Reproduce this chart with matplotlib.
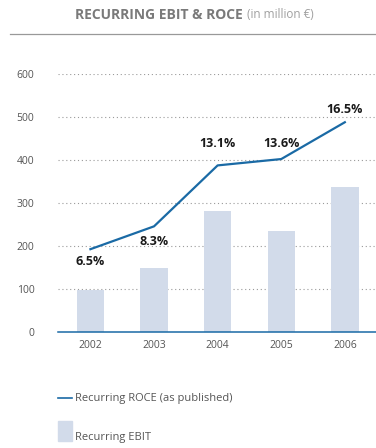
import matplotlib
matplotlib.use('Agg')
import matplotlib.pyplot as plt
from matplotlib.patches import Rectangle
from matplotlib.lines import Line2D

plt.rcParams['font.family'] = ['Open Sans', 'DejaVu Sans']

years = ['2002', '2003', '2004', '2005', '2006']
ebit = [98, 148, 281, 235, 337]          # recurring EBIT, million EUR
roce = [6.5, 8.3, 13.1, 13.6, 16.5]      # recurring ROCE, %
roce_labels = ['6.5%', '8.3%', '13.1%', '13.6%', '16.5%']
yticks = [0, 100, 200, 300, 400, 500, 600]

BLUE = '#1a6aa5'
BAR = '#d2dbea'
GRID = '#9a9a9a'
TXT = '#555555'

W, H = 376, 448
fig = plt.figure(figsize=(W / 100, H / 100), dpi=100)
ax = fig.add_axes([58 / W, (H - 331.7) / H, (W - 58) / W, (331.7 - 74) / H])

x = range(len(years))
ax.bar(x, ebit, width=0.43, color=BAR, zorder=2)
ax.set_xlim(-0.51, 4.49)
ax.set_ylim(0, 600)
ax.set_yticks(yticks)
ax.set_yticklabels([str(v) for v in yticks])
ax.set_xticks(list(x))
ax.set_xticklabels(years)
ax.tick_params(axis='y', length=0, pad=17, labelsize=7.5, labelcolor=TXT)
ax.tick_params(axis='x', length=0, pad=6, labelsize=7.5, labelcolor=TXT)
for v in yticks[1:]:
    ax.axhline(v, color=GRID, lw=0.8, ls=(0, (1, 2.5)), zorder=1)
for s in ['top', 'right', 'left']:
    ax.spines[s].set_visible(False)
ax.spines['bottom'].set_color(BLUE)
ax.spines['bottom'].set_linewidth(1.1)

# ROCE on its own (hidden) scale
ax2 = ax.twinx()
ax2.set_ylim(0, 20.3)
ax2.axis('off')
ax2.plot(x, roce, color=BLUE, lw=1.6, zorder=3)
offsets = [-9, -11, 16, 11, 9]
for i, (r, lab) in enumerate(zip(roce, roce_labels)):
    ax2.annotate(lab, (i, r), xytext=(0, offsets[i]), textcoords='offset points',
                 ha='center', va='center', fontsize=9, fontweight='bold',
                 color='#1a1a1a')

# title and rule
fig.text(243 / W, 1 - 15 / H, 'RECURRING EBIT & ROCE', ha='right', va='center',
         fontsize=10, fontweight='bold', color='#7a7a7a')
fig.text(247 / W, 1 - 15 / H, '(in million €)', ha='left', va='center',
         fontsize=8.5, color='#a0a0a0')
fig.add_artist(Line2D([10 / W, 1], [1 - 34 / H, 1 - 34 / H], color='#999999', lw=0.9))

# legend
fig.add_artist(Line2D([58 / W, 72 / W], [1 - 398 / H, 1 - 398 / H], color=BLUE, lw=1.2))
fig.text(75 / W, 1 - 398 / H, 'Recurring ROCE (as published)', ha='left', va='center',
         fontsize=8, color=TXT)
fig.add_artist(Rectangle((58 / W, 1 - 441 / H), 14 / W, 20 / H, color=BAR,
                         transform=fig.transFigure))
fig.text(75 / W, 1 - 437 / H, 'Recurring EBIT', ha='left', va='center',
         fontsize=8, color=TXT)

fig.savefig('out.png', dpi=100)
